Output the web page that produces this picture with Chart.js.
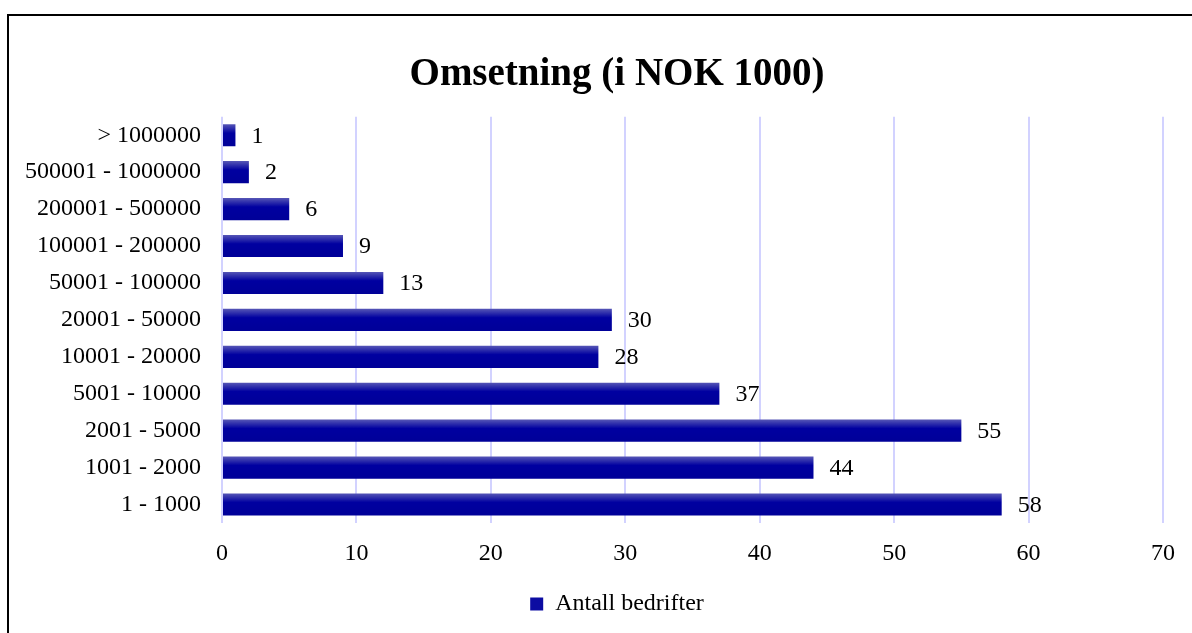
<!DOCTYPE html>
<html>
<head>
<meta charset="utf-8">
<script src="https://cdn.jsdelivr.net/npm/chart.js@4.4.1/dist/chart.umd.min.js"></script>
<style>
  html, body { margin:0; padding:0; background:#fff; overflow:hidden; }
  #frame { position:absolute; left:7px; top:14px; width:1240px; height:640px; border:2px solid #000; }
  #chart { display:block; }
</style>
</head>
<body>
<div id="frame"><canvas id="chart" width="1216" height="617"></canvas></div>
<script>
// data
const categories = ['> 1000000', '500001 - 1000000', '200001 - 500000', '100001 - 200000',
  '50001 - 100000', '20001 - 50000', '10001 - 20000', '5001 - 10000', '2001 - 5000',
  '1001 - 2000', '1 - 1000'];
const barValues = [1, 2, 5, 9, 12, 29, 28, 37, 55, 44, 58];   // bar lengths as drawn
const valueLabels = ['1', '2', '6', '9', '13', '30', '28', '37', '55', '44', '58']; // printed labels
const xMin = 0, xMax = 70, xStep = 10;
const seriesName = 'Antall bedrifter';
const chartTitle = 'Omsetning (i NOK 1000)';

const BAR_PCT = 0.6;

Chart.defaults.font.family = '"Liberation Serif", "Times New Roman", serif';
Chart.defaults.font.size = 24;
Chart.defaults.color = '#000';

function barFill(c){
  const chart = c.chart;
  const ys = chart.scales && chart.scales.y;
  if (!ys || c.type !== 'data' || !chart.chartArea) return '#0000a0';
  const yc = ys.getPixelForValue(c.dataIndex);
  const half = (ys.height / categories.length) * BAR_PCT / 2;
  const g = chart.ctx.createLinearGradient(0, yc - half, 0, yc + half);
  g.addColorStop(0, '#5656b6');
  g.addColorStop(0.4, '#0000a0');
  g.addColorStop(1, '#000098');
  return g;
}

// value labels to the right of each bar
const valueLabelPlugin = {
  id: 'valueLabels',
  afterDatasetsDraw(chart){
    const ctx = chart.ctx;
    const meta = chart.getDatasetMeta(0);
    ctx.save();
    ctx.font = '24px "Liberation Serif", "Times New Roman", serif';
    ctx.fillStyle = '#000';
    ctx.textAlign = 'left';
    ctx.textBaseline = 'middle';
    meta.data.forEach((bar, i) => {
      ctx.fillText(valueLabels[i], bar.x + 16, bar.y + 1);
    });
    ctx.restore();
  }
};

new Chart(document.getElementById('chart'), {
  type: 'bar',
  data: {
    labels: categories,
    datasets: [{
      label: seriesName,
      data: barValues,
      backgroundColor: barFill,
      borderWidth: 0,
      barPercentage: BAR_PCT,
      categoryPercentage: 1
    }]
  },
  options: {
    indexAxis: 'y',
    responsive: false,
    animation: false,
    devicePixelRatio: 1,
    layout: { padding: { left: 0, right: 0, top: 0, bottom: 7 } },
    plugins: {
      title: {
        display: true,
        text: chartTitle,
        color: '#000',
        font: { size: 39, weight: 'bold' },
        padding: { top: 36, bottom: 18 }
      },
      legend: {
        position: 'bottom',
        labels: {
          boxWidth: 13,
          boxHeight: 13,
          font: { size: 24 },
          color: '#000',
          generateLabels: () => [{
            text: seriesName, fillStyle: '#0c0ca2', strokeStyle: '#0c0ca2', lineWidth: 0, datasetIndex: 0
          }]
        }
      },
      tooltip: { enabled: false }
    },
    scales: {
      x: {
        min: xMin, max: xMax,
        ticks: { stepSize: xStep, padding: 16, color: '#000' },
        grid: { color: '#d2d2ff', lineWidth: 2, drawTicks: false },
        border: { display: false },
        afterFit: (s) => { s.height = 59; s.paddingRight = 62; }
      },
      y: {
        ticks: { padding: 21, color: '#000', autoSkip: false },
        grid: { display: false, drawTicks: false },
        border: { display: false },
        afterFit: (s) => { s.width = 213; }
      }
    }
  },
  plugins: [valueLabelPlugin]
});
</script>
</body>
</html>
